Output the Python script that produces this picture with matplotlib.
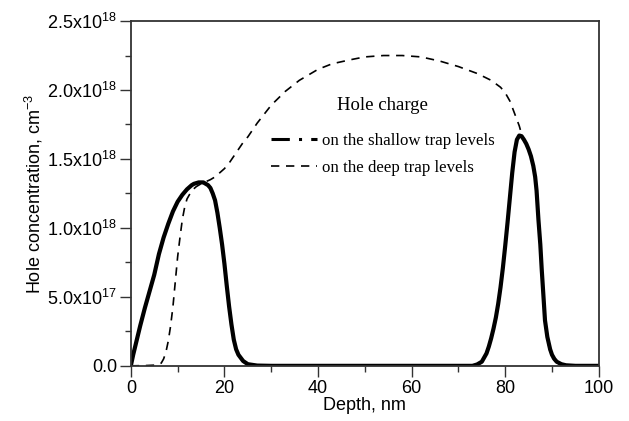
import numpy as np
import matplotlib
matplotlib.use("Agg")
import matplotlib.pyplot as plt
from matplotlib.lines import Line2D
from matplotlib.ticker import FixedLocator, MultipleLocator

# === DATA (depth in nm, concentration in 1e18 cm^-3) ===
shallow_depth = [0, 0.5, 1, 2, 3, 4, 5, 6, 7, 8, 9, 10, 11, 12, 12.5, 13, 13.5, 14, 14.5,
                 15, 15.5, 16, 16.5, 17, 17.5, 18, 18.5, 19, 19.5, 20, 20.5, 21, 21.5,
                 22, 22.5, 23, 24, 25, 27, 30, 40, 50, 60, 70, 73, 74, 75, 76, 76.5, 77,
                 77.5, 78, 78.5, 79, 79.5, 80, 80.5, 81, 81.5, 82, 82.5, 83,
                 83.5, 84, 84.5, 85, 85.5, 86, 86.4, 86.7, 87.1, 87.5, 87.8, 88.2, 88.5,
                 89, 89.6, 90, 90.5, 91, 92, 93, 95, 100]
shallow_conc = [0, 0.08, 0.15, 0.29, 0.42, 0.54, 0.66, 0.81, 0.93, 1.03, 1.12, 1.19, 1.24,
                1.28, 1.295, 1.31, 1.32, 1.325, 1.33, 1.33, 1.33, 1.32, 1.31, 1.29, 1.25,
                1.20, 1.11, 1.00, 0.88, 0.74, 0.58, 0.43, 0.30, 0.19, 0.12, 0.08, 0.035,
                0.012, 0.002, 0, 0, 0, 0, 0, 0, 0.01, 0.03, 0.09, 0.14, 0.20, 0.27, 0.35,
                0.45, 0.57, 0.71, 0.87, 1.04, 1.22, 1.40, 1.55, 1.64, 1.67, 1.665,
                1.64, 1.61, 1.57, 1.52, 1.45, 1.37, 1.27, 1.06, 0.88, 0.70, 0.49, 0.33,
                0.21, 0.12, 0.08, 0.05, 0.03, 0.012, 0.004, 0, 0]

deep_depth = [0, 3, 5, 6, 6.5, 7, 7.5, 8, 8.5, 9, 9.5, 10, 10.5, 11, 11.5, 12, 13, 14, 15,
              16, 17, 18, 19, 20, 21, 22, 23, 24, 25, 27, 30, 33, 36, 40, 43, 47, 50, 54,
              58, 62, 66, 70, 74, 77, 79, 80, 81, 82, 83, 83.5, 84, 85, 86, 86.7, 87.1,
              87.5, 88, 88.5, 89, 89.6, 90, 91, 92, 93, 100]
deep_conc = [0, 0.002, 0.005, 0.01, 0.02, 0.05, 0.10, 0.18, 0.29, 0.43, 0.61, 0.79, 0.93,
             1.06, 1.15, 1.21, 1.27, 1.30, 1.32, 1.335, 1.35, 1.37, 1.40, 1.43, 1.47, 1.52,
             1.57, 1.62, 1.66, 1.76, 1.89, 1.99, 2.07, 2.15, 2.19, 2.22, 2.24, 2.25, 2.25,
             2.24, 2.21, 2.17, 2.12, 2.07, 2.02, 1.98, 1.92, 1.83, 1.74, 1.68, 1.64, 1.57,
             1.45, 1.27, 1.06, 0.88, 0.60, 0.33, 0.19, 0.10, 0.06, 0.025, 0.008, 0, 0]

y_ticks = [0, 0.5e18, 1.0e18, 1.5e18, 2.0e18, 2.5e18]
y_tick_labels = ["0.0", r"5.0x10$^{17}$", r"1.0x10$^{18}$", r"1.5x10$^{18}$",
                 r"2.0x10$^{18}$", r"2.5x10$^{18}$"]
x_ticks = [0, 20, 40, 60, 80, 100]

legend_title = "Hole charge"
legend_labels = ["on the shallow trap levels", "on the deep trap levels"]

# === STYLE ===
plt.rcParams["font.family"] = ["Liberation Sans", "DejaVu Sans"]
plt.rcParams["mathtext.fontset"] = "custom"
plt.rcParams["mathtext.rm"] = "Liberation Sans"
plt.rcParams["mathtext.it"] = "Liberation Sans"
plt.rcParams["mathtext.default"] = "regular"

fig = plt.figure(figsize=(6.29, 4.21), dpi=100)
ax = fig.add_axes([0.208, 0.131, 0.744, 0.819])

scale = 1e18
ax.plot(deep_depth, np.array(deep_conc) * scale, color="black", lw=1.2,
        linestyle=(0, (5, 4)))
ax.plot(shallow_depth, np.array(shallow_conc) * scale, color="black", lw=3.0,
        solid_joinstyle="round")

ax.set_xlim(0, 100)
ax.set_ylim(0, 2.5e18)
ax.xaxis.set_major_locator(FixedLocator(x_ticks))
ax.xaxis.set_minor_locator(MultipleLocator(10))
ax.yaxis.set_major_locator(FixedLocator(y_ticks))
ax.yaxis.set_minor_locator(MultipleLocator(0.25e18))
ax.set_yticklabels(y_tick_labels)
ax.set_xticklabels([str(t) for t in x_ticks])

ax.tick_params(which="major", direction="out", length=8, width=1, labelsize=13,
               color="#333333", pad=2)
ax.tick_params(which="minor", direction="out", length=4, width=1, color="#333333")
for sp in ax.spines.values():
    sp.set_linewidth(1.3)
    sp.set_color("#333333")

ax.set_xlabel("Depth, nm", fontsize=13, labelpad=0)
ax.set_ylabel("Hole concentration, cm$^{-3}$", fontsize=13, labelpad=2)

handles = [Line2D([], [], color="black", lw=2.2, linestyle=(0, (6, 3, 1, 3))),
           Line2D([], [], color="black", lw=1.2, linestyle=(0, (5, 4)))]
leg = ax.legend(handles, legend_labels, title=legend_title, frameon=False,
                loc="upper left", bbox_to_anchor=(0.267, 0.825), handlelength=2.7,
                handletextpad=0.3, labelspacing=0.62,
                prop={"family": "Liberation Serif", "size": 12.2})
leg.get_title().set_fontfamily("Liberation Serif")
leg.get_title().set_fontsize(13.5)
leg._legend_box.sep = 14

fig.savefig("out.png", dpi=100)
